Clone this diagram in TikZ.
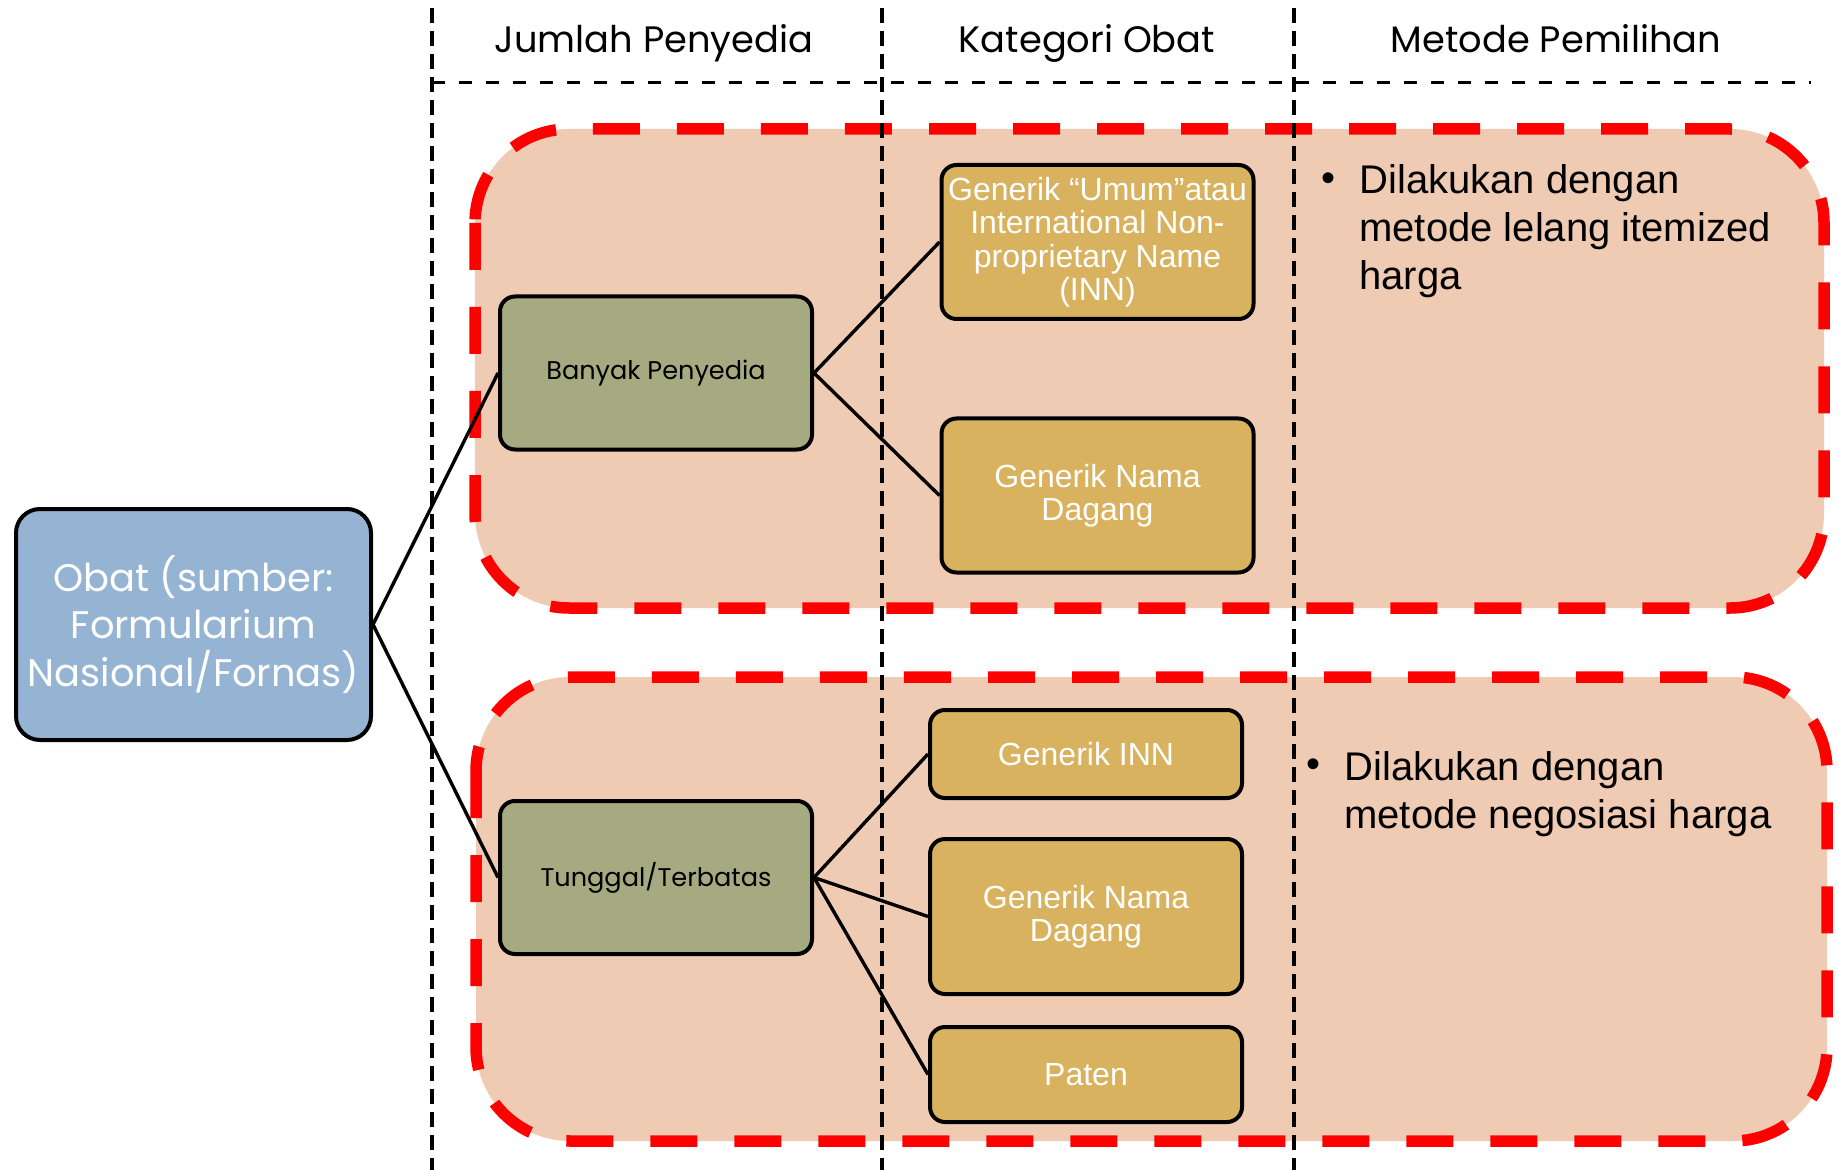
\documentclass[tikz,border=0pt]{standalone}
\usepackage{fontspec}
\setmainfont{Liberation Sans}
\newfontfamily\gothfont{Poppins}
\usetikzlibrary{calc}
\definecolor{obatblue}{HTML}{95B3D3}
\definecolor{supolive}{HTML}{A5AA80}
\definecolor{katgold}{HTML}{D8B25F}
\definecolor{groupfill}{HTML}{F0CBB3}

\begin{document}
\begin{tikzpicture}[
  x=0.5pt, y=-0.5pt,
  colline/.style={line width=1.6pt, dash pattern=on 7.5pt off 4pt},
  rowline/.style={line width=1.6pt, dash pattern=on 6.5pt off 7pt},
  grouprect/.style={draw=red, fill=groupfill, line width=5.75pt,
    dash pattern=on 23.5pt off 18.5pt, rounded corners=47pt},
  rootbox/.style={draw, line width=2pt, fill=obatblue, rounded corners=12pt,
    minimum width=177.5pt, minimum height=115.5pt, text=white, align=center,
    font=\gothfont\fontsize{19.2}{23.75}\selectfont},
  supbox/.style={draw, line width=2pt, fill=supolive, rounded corners=7.5pt,
    minimum width=156pt, minimum height=76.5pt,
    font=\gothfont\fontsize{12.8}{15}\selectfont},
  catbox/.style={draw, line width=2pt, fill=katgold, rounded corners=7.5pt,
    minimum width=156pt, text=white, align=center, inner sep=1pt,
    font=\fontsize{16}{16.75}\selectfont},
  link/.style={line width=1.7pt},
  header/.style={anchor=base, font=\gothfont\fontsize{18.4}{22}\selectfont},
  methtext/.style={anchor=north west, inner sep=0pt, align=left,
    font=\fontsize{20}{24}\selectfont},
  methdot/.style={inner sep=0pt, font=\fontsize{20}{24}\selectfont},
  ]
  \useasboundingbox (0,0) rectangle (1839,1170);

  % Groups (red dashed)
  \path[grouprect] (475,129) rectangle (1824,608);
  \path[grouprect] (476,677) rectangle (1827,1141);

  % Column grid
  \foreach \cx in {432, 882, 1294} {
    \draw[colline] (\cx, 8) -- (\cx, 1170);
  }
  \draw[rowline] (432, 82.5) -- (1811, 82.5);

  % Headers
  \node[header] (hdrsup) at (654, 53) {Jumlah Penyedia};
  \node[header] (hdrcat) at (1087, 53) {Kategori Obat};
  \node[header] (hdrmeth) at (1556, 53) {Metode Pemilihan};

  % Root
  \node[rootbox] (obat) at (193.5, 624.5) {Obat (sumber:\\Formularium\\Nasional/Fornas)};

  % Suppliers
  \node[supbox] (banyak) at (656, 373) {Banyak Penyedia};
  \node[supbox] (tunggal) at (656, 877.5) {Tunggal/Terbatas};

  % Categories
  \node[catbox, minimum height=77pt] (inn) at (1097.5, 242)
    {Generik “Umum”atau\\International Non-\\proprietary Name\\(INN)};
  \node[catbox, minimum height=77pt] (dagangA) at (1097.5, 495.5) {Generik Nama\\Dagang};
  \node[catbox, minimum height=44pt] (innB) at (1086, 754) {Generik INN};
  \node[catbox, minimum height=77.5pt] (dagangB) at (1086, 916.5) {Generik Nama\\Dagang};
  \node[catbox, minimum height=47.5pt] (paten) at (1086, 1074.5) {Paten};

  % Methods
  \node[methdot] (dotA) at (1328, 182) {\textbullet};
  \node[methtext] (methA) at (1359, 164) {Dilakukan dengan\\metode lelang itemized\\harga};
  \node[methdot] (dotB) at (1313.5, 768) {\textbullet};
  \node[methtext] (methB) at (1344, 751) {Dilakukan dengan\\metode negosiasi harga};

  % Links
  \draw[link] (obat.east) -- (banyak.west);
  \draw[link] (obat.east) -- (tunggal.west);
  \draw[link] (banyak.east) -- (inn.west);
  \draw[link] (banyak.east) -- (dagangA.west);
  \draw[link] (tunggal.east) -- (innB.west);
  \draw[link] (tunggal.east) -- (dagangB.west);
  \draw[link] (tunggal.east) -- (paten.west);
\end{tikzpicture}
\end{document}
